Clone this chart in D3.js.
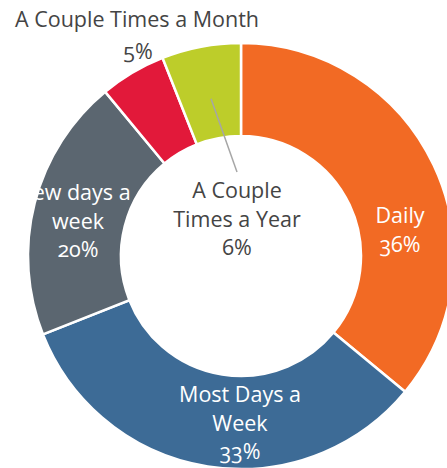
<!DOCTYPE html>
<html>
<head>
<meta charset="utf-8">
<script src="https://cdn.jsdelivr.net/npm/d3@7/dist/d3.min.js"></script>
<style>
  body { margin: 0; background: #fff; }
  text { font-family: "Open Sans", sans-serif; font-size: 21.5px; font-feature-settings: "onum"; }
</style>
</head>
<body>
<div id="chart"></div>
<script>
// Data
var categories = ["Daily", "Most Days a Week", "few days a week", "A Couple Times a Month", "A Couple Times a Year"];
var values = [36, 33, 20, 5, 6];
var colors = ["#f26a24", "#3d6b96", "#5b6670", "#e2193a", "#bdcd2a"];

// label lines for each slice
var labelLines = [
    ["Daily", "36%"],
    ["Most Days a", "Week", "33%"],
    ["few days a", "week", "20%"],
    ["A Couple Times a Month", "5%"],
    ["A Couple", "Times a Year", "6%"]
];

var width = 447, height = 468;
var cx = 241, cy = 256;
var outerR = 213, innerR = 120;

var svg = d3.select("#chart")
    .append("svg")
    .attr("width", width)
    .attr("height", height);

var g = svg.append("g").attr("transform", "translate(" + cx + "," + cy + ")");

var pie = d3.pie().sort(null).value(function(d) { return d; });
var arc = d3.arc().innerRadius(innerR).outerRadius(outerR);

var slices = pie(values);

g.selectAll("path")
    .data(slices)
    .enter()
    .append("path")
    .attr("d", arc)
    .attr("fill", function(d, i) { return colors[i]; })
    .attr("stroke", "#fff")
    .attr("stroke-width", 2.5);

// label placement: [x, y of first baseline] relative to center, text colour
var labelPos = [
    {x: 159, y: -33, fill: "#fff", anchor: "middle"},
    {x: -1, y: 146, fill: "#fff", anchor: "middle"},
    {x: -163, y: -56, fill: "#fff", anchor: "middle"},
    {x: -226, y: -229, fill: "#444", anchor: "start"},
    {x: -4, y: -58, fill: "#444", anchor: "middle"}
];
var lineHeight = 28.5;

// leader line from the small green slice to its label in the middle
var leadStart = d3.arc().innerRadius(160).outerRadius(160).centroid(slices[4]);
g.append("line")
    .attr("x1", leadStart[0])
    .attr("y1", leadStart[1])
    .attr("x2", -4)
    .attr("y2", -84)
    .attr("stroke", "#a6a6a6")
    .attr("stroke-width", 1.5);

var labels = g.selectAll("text.lbl")
    .data(labelLines)
    .enter()
    .append("text")
    .attr("class", "lbl")
    .attr("fill", function(d, i) { return labelPos[i].fill; })
    .attr("text-anchor", function(d, i) { return labelPos[i].anchor; });

labels.each(function(lines, i) {
    var t = d3.select(this);
    var p = labelPos[i];
    lines.forEach(function(line, j) {
        var tx = p.x;
        // the month label sits its percentage under the slice
        if (i === 3 && j === 1) {
            tx = -103;
        }
        t.append("tspan")
            .attr("x", tx)
            .attr("y", p.y + (i === 3 ? j * 32 : j * lineHeight))
            .attr("text-anchor", (i === 3 && j === 1) ? "middle" : p.anchor)
            .text(line);
    });
});
</script>
</body>
</html>
